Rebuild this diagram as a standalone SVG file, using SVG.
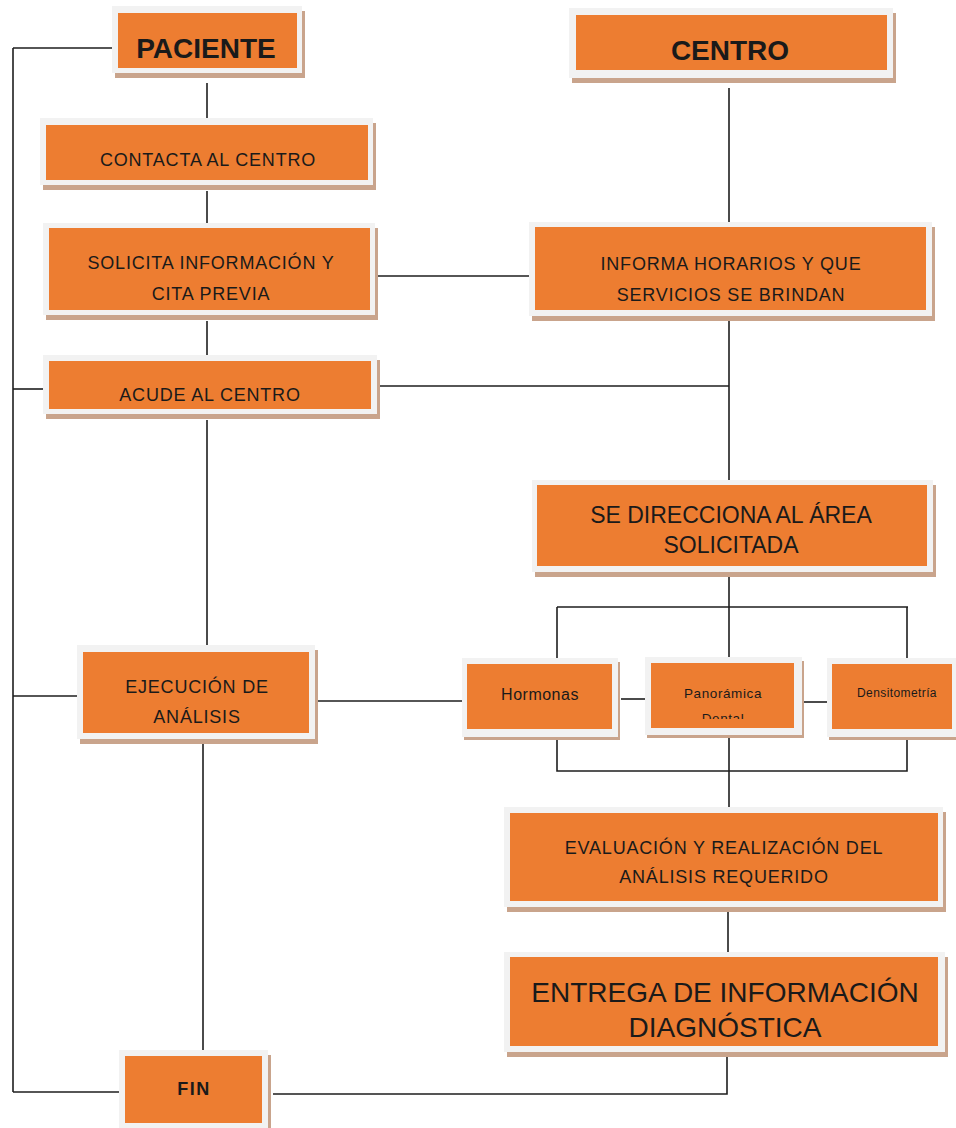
<svg xmlns="http://www.w3.org/2000/svg" width="956" height="1128" viewBox="0 0 956 1128">
<style>
.sh{fill:#c9a48c}
.fr{fill:#f2f2f2}
.or{fill:#ed7d31}
.t{font-family:"Liberation Sans",Arial,sans-serif;fill:#1a1a1a;text-anchor:middle}
.c{font-size:18px;letter-spacing:0.8px}
.b{font-weight:bold;font-size:28px}
.a{font-size:23px}
.a2{font-size:28px}
.cn path{fill:none;stroke:#1e1e1e;stroke-width:1.6}
</style>
<defs>
<clipPath id="clipDental"><rect x="640" y="650" width="170" height="69"/></clipPath>
</defs>
<rect width="956" height="1128" fill="#ffffff"/>
<g id="connectors" class="cn">
<path d="M13,48 V1092"/>
<path d="M13,48 H112"/>
<path d="M13,389 H43"/>
<path d="M13,696 H77"/>
<path d="M13,1092 H119"/>
<path d="M207,83 V118"/>
<path d="M207,191 V223"/>
<path d="M207,321 V355"/>
<path d="M207,420 V645"/>
<path d="M203,744 V1050"/>
<path d="M378,276 H529"/>
<path d="M729,88 V222"/>
<path d="M729,320 V480"/>
<path d="M380,386 H729"/>
<path d="M729,577 V607"/>
<path d="M557,607 H908"/>
<path d="M557,607 V658"/>
<path d="M729,607 V657"/>
<path d="M907,607 V658"/>
<path d="M317,701 H462"/>
<path d="M621,699 H645"/>
<path d="M803,702 H827"/>
<path d="M557,740 V771 H907 V737"/>
<path d="M729,735 V807"/>
<path d="M728,912 V952"/>
<path d="M727,1057 V1094 H273"/>
</g>
<g id="paciente">
<rect class="sh" x="115" y="11" width="190" height="67"/>
<rect class="fr" x="112" y="6" width="190" height="67"/>
<rect class="or" x="118" y="13" width="179" height="55"/>
<text class="t b" x="206" y="58">PACIENTE</text>
</g>
<g id="centro">
<rect class="sh" x="572" y="13" width="324" height="70"/>
<rect class="fr" x="569" y="8" width="324" height="70"/>
<rect class="or" x="576" y="15" width="311" height="55"/>
<text class="t b" x="730" y="60">CENTRO</text>
</g>
<g id="contacta">
<rect class="sh" x="43" y="123" width="333" height="67"/>
<rect class="fr" x="40" y="118" width="333" height="67"/>
<rect class="or" x="46" y="125" width="322" height="55"/>
<text class="t c" x="208" y="166">CONTACTA AL CENTRO</text>
</g>
<g id="solicita">
<rect class="sh" x="46" y="228" width="332" height="92"/>
<rect class="fr" x="43" y="223" width="332" height="92"/>
<rect class="or" x="49" y="228" width="321" height="82"/>
<text class="t c" x="211" y="269">SOLICITA INFORMACIÓN Y</text>
<text class="t c" x="211" y="300">CITA PREVIA</text>
</g>
<g id="informa">
<rect class="sh" x="532" y="227" width="403" height="94"/>
<rect class="fr" x="529" y="222" width="403" height="94"/>
<rect class="or" x="535" y="227" width="391" height="83"/>
<text class="t c" x="731" y="270">INFORMA HORARIOS Y QUE</text>
<text class="t c" x="731" y="301">SERVICIOS SE BRINDAN</text>
</g>
<g id="acude">
<rect class="sh" x="46" y="360" width="334" height="59"/>
<rect class="fr" x="43" y="355" width="334" height="59"/>
<rect class="or" x="49" y="361" width="322" height="48"/>
<text class="t c" x="210" y="401">ACUDE AL CENTRO</text>
</g>
<g id="direcciona">
<rect class="sh" x="535" y="485" width="401" height="92"/>
<rect class="fr" x="532" y="480" width="401" height="92"/>
<rect class="or" x="537" y="485" width="390" height="81"/>
<text class="t a" x="731" y="523">SE DIRECCIONA AL ÁREA</text>
<text class="t a" x="731" y="553">SOLICITADA</text>
</g>
<g id="hormonas">
<rect class="sh" x="464" y="662" width="156" height="78"/>
<rect class="fr" x="462" y="658" width="156" height="79"/>
<rect class="or" x="467" y="664" width="145" height="65"/>
<text class="t" x="540" y="700" style="font-size:16px;letter-spacing:0.5px">Hormonas</text>
</g>
<g id="panoramica">
<rect class="sh" x="647" y="661" width="157" height="77"/>
<rect class="fr" x="645" y="657" width="157" height="78"/>
<rect class="or" x="651" y="663" width="143" height="65"/>
<text class="t" x="723" y="698" style="font-size:13.5px;letter-spacing:0.6px">Panorámica</text>
<text class="t" x="723" y="723" clip-path="url(#clipDental)" style="font-size:13.5px;letter-spacing:0.6px">Dental</text>
</g>
<g id="densitometria">
<rect class="sh" x="829" y="662" width="127" height="78"/>
<rect class="fr" x="827" y="658" width="129" height="79"/>
<rect class="or" x="832" y="664" width="120" height="65"/>
<text class="t" x="897" y="697" style="font-size:12px;letter-spacing:0.4px">Densitometría</text>
</g>
<g id="ejecucion">
<rect class="sh" x="80" y="650" width="238" height="94"/>
<rect class="fr" x="77" y="645" width="238" height="94"/>
<rect class="or" x="83" y="652" width="226" height="81"/>
<text class="t c" x="197" y="693">EJECUCIÓN DE</text>
<text class="t c" x="197" y="723">ANÁLISIS</text>
</g>
<g id="evaluacion">
<rect class="sh" x="507" y="812" width="439" height="100"/>
<rect class="fr" x="504" y="807" width="439" height="100"/>
<rect class="or" x="510" y="813" width="428" height="88"/>
<text class="t c" x="724" y="854">EVALUACIÓN Y REALIZACIÓN DEL</text>
<text class="t c" x="724" y="883">ANÁLISIS REQUERIDO</text>
</g>
<g id="entrega">
<rect class="sh" x="507" y="957" width="441" height="100"/>
<rect class="fr" x="504" y="952" width="441" height="100"/>
<rect class="or" x="510" y="957" width="428" height="89"/>
<text class="t a2" x="725" y="1002">ENTREGA DE INFORMACIÓN</text>
<text class="t a2" x="725" y="1037">DIAGNÓSTICA</text>
</g>
<g id="fin">
<rect class="sh" x="122" y="1055" width="149" height="80"/>
<rect class="fr" x="119" y="1050" width="149" height="80"/>
<rect class="or" x="125" y="1056" width="137" height="67"/>
<text class="t" x="194" y="1095" style="font-weight:bold;font-size:18px;letter-spacing:1.5px">FIN</text>
</g>
</svg>
